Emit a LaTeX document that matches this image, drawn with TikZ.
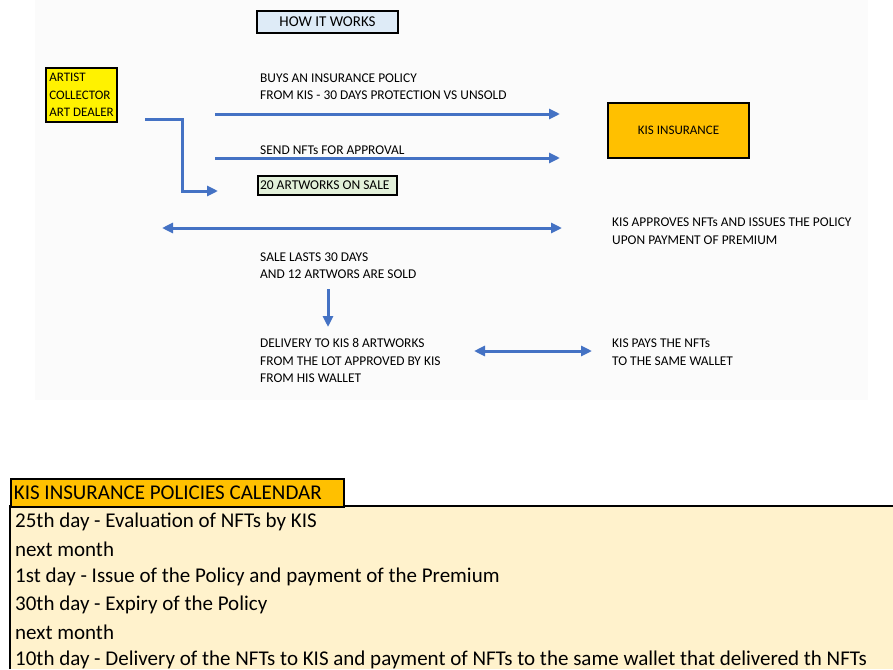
\documentclass[tikz,border=0pt]{standalone}
\usepackage{fontspec}
\setmainfont{Carlito}
\usetikzlibrary{arrows.meta,positioning}
\definecolor{kisblue}{HTML}{4472C4}
\definecolor{kisorange}{HTML}{FFC000}
\definecolor{kiscream}{HTML}{FFF2CC}
\definecolor{kissky}{HTML}{DEEBF7}
\definecolor{kisgreen}{HTML}{E2F0D9}
\definecolor{kispaper}{HTML}{FBFBFB}

\begin{document}
\begin{tikzpicture}[x=1pt, y=-1pt,
    box/.style={draw=black, line width=1.8pt, inner sep=3pt,
                font=\fontsize{13}{17.5}\selectfont},
    arr/.style={-{Triangle[length=11pt,width=10pt]}, line width=3pt, kisblue},
    darr/.style={{Triangle[length=11pt,width=10pt]}-{Triangle[length=11pt,width=10pt]},
                 line width=3pt, kisblue},
    lbl/.style={anchor=west, align=left, inner sep=0pt,
                font=\fontsize{13.4}{17.5}\selectfont},
    cal/.style={anchor=west, inner sep=0pt, font=\fontsize{21}{24}\selectfont},
]
\useasboundingbox (0,0) rectangle (893,669);

% Sheet behind the diagram
\fill[kispaper] (35,0) rectangle (868,400);

% Boxes
\node[box, fill=kissky, minimum width=141pt, minimum height=22pt,
      font=\fontsize{15}{17}\selectfont] (how) at (327.5,22) {HOW IT WORKS};
\node[box, fill=yellow, align=left, minimum width=71pt, minimum height=54pt,
      inner sep=2pt] (who) at (81.5,95) {ARTIST\\COLLECTOR\\ART DEALER};
\node[box, fill=kisorange, minimum width=141pt, minimum height=55pt]
      (kis) at (678.5,130.5) {KIS INSURANCE};
\node[box, fill=kisgreen, minimum height=19pt, inner sep=2pt,
      font=\fontsize{13.5}{15}\selectfont]
      (sale) at (327.5,185.5) {\makebox[135pt][l]{20 ARTWORKS ON SALE}};

% Free ends of the arrows
\coordinate (buyS) at (215,114);   \coordinate (buyE) at (560,114);
\coordinate (sendS) at (215,158);  \coordinate (sendE) at (560,158);
\coordinate (turn) at (145,119);   \coordinate (turnE) at (218,191);
\coordinate (apprL) at (162,228);  \coordinate (apprR) at (562,228);
\coordinate (downS) at (328,289);  \coordinate (downE) at (328,327);
\coordinate (payL) at (474,351);   \coordinate (payR) at (592,351);

% Arrows
\draw[arr] (buyS) -- (buyE);
\draw[arr] (sendS) -- (sendE);
\draw[arr, line join=miter] (turn) -| (182,155) |- (turnE);
\draw[darr] (apprL) -- (apprR);
\draw[arr] (downS) -- (downE);
\draw[darr] (payL) -- (payR);

% Labels
\node[lbl] (buy) at (260,86.5)
    {BUYS AN INSURANCE POLICY\\FROM KIS - 30 DAYS PROTECTION VS UNSOLD};
\node[lbl] (send) at (260,150) {SEND NFTs FOR APPROVAL};
\node[lbl] (appr) at (612,231)
    {KIS APPROVES NFTs AND ISSUES THE POLICY\\UPON PAYMENT OF PREMIUM};
\node[lbl] (lasts) at (260,265.5) {SALE LASTS 30 DAYS\\AND 12 ARTWORS ARE SOLD};
\node[lbl] (deliv) at (260,360.5)
    {DELIVERY TO KIS 8 ARTWORKS\\FROM THE LOT APPROVED BY KIS\\FROM HIS WALLET};
\node[lbl] (pays) at (612,352) {KIS PAYS THE NFTs\\TO THE SAME WALLET};

% Calendar
\fill[kiscream] (10,506) rectangle (893,669);
\draw[line width=2pt] (893,506) -- (10,506) -- (10,669);
\node[box, fill=kisorange, anchor=north west, minimum height=28pt,
      font=\fontsize{21}{23}\selectfont]
      (calhead) at (10,478) {\makebox[327pt][l]{KIS INSURANCE POLICIES CALENDAR}};
\node[cal] (d25) at (15,522) {25th day - Evaluation of NFTs by KIS};
\node[cal] (nm1) at (15,549.5) {next month};
\node[cal] (d1)  at (15,577) {1st day - Issue of the Policy and payment of the Premium};
\node[cal] (d30) at (15,604.5) {30th day - Expiry of the Policy};
\node[cal] (nm2) at (15,632) {next month};
\node[cal] (d10) at (15,659.5)
    {10th day - Delivery of the NFTs to KIS and payment of NFTs to the same wallet that delivered th NFTs};

\end{tikzpicture}
\end{document}
